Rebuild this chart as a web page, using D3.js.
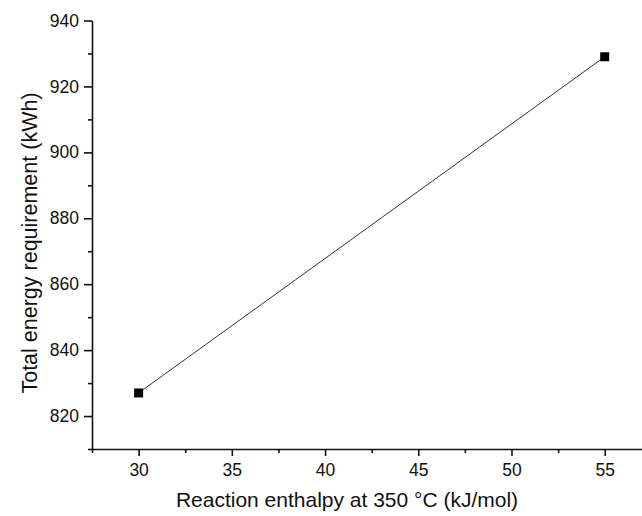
<!DOCTYPE html>
<html>
<head>
<meta charset="utf-8">
<script src="https://cdn.jsdelivr.net/npm/d3@7"></script>
<style>
  body { margin: 0; background: #fff; }
  text { font-family: "Liberation Sans", Arial, sans-serif; fill: #111; }
</style>
</head>
<body>
<svg id="chart"></svg>
<script>
// Reaction enthalpy vs total energy requirement
const enthalpy = [30, 55];        // kJ/mol
const energy = [827, 929];        // kWh
const xTicks = [30, 35, 40, 45, 50, 55];
const yTicks = [820, 840, 860, 880, 900, 920, 940];

const W = 642, H = 516;
const M = { top: 20.5, right: 0, bottom: 67, left: 92 };

const svg = d3.select("#chart").attr("width", W).attr("height", H);

const x = d3.scaleLinear().domain([27.5, 57]).range([M.left, W - M.right]);
const y = d3.scaleLinear().domain([810, 940]).range([H - M.bottom, M.top]);

const minorX = d3.range(27.5, 57.01, 2.5).filter(v => !xTicks.includes(v));
const minorY = d3.range(810, 940.01, 10).filter(v => !yTicks.includes(v));

// x axis
const xg = svg.append("g").attr("transform", `translate(0,${H - M.bottom})`);
xg.call(d3.axisBottom(x).tickValues(xTicks).tickSize(7).tickPadding(8).tickSizeOuter(0));
xg.append("g").call(d3.axisBottom(x).tickValues(minorX).tickSize(4).tickFormat("").tickSizeOuter(0))
  .select(".domain").remove();

// y axis
const yg = svg.append("g").attr("transform", `translate(${M.left},0)`);
yg.call(d3.axisLeft(y).tickValues(yTicks).tickSize(8).tickPadding(5).tickSizeOuter(0));
yg.append("g").call(d3.axisLeft(y).tickValues(minorY).tickSize(4).tickFormat("").tickSizeOuter(0))
  .select(".domain").remove();

svg.selectAll(".domain, .tick line").attr("stroke", "#111").attr("stroke-width", 1.6);
svg.selectAll(".tick text").attr("font-size", 17.5).attr("fill", "#111");

// axis titles
svg.append("text")
  .attr("x", 347).attr("y", 507)
  .attr("text-anchor", "middle")
  .attr("font-size", 21)
  .text("Reaction enthalpy at 350 °C (kJ/mol)");

svg.append("text")
  .attr("transform", `translate(37,243) rotate(-90)`)
  .attr("text-anchor", "middle")
  .attr("font-size", 21.5)
  .text("Total energy requirement (kWh)");

// line + markers
const pts = enthalpy.map((v, i) => [v, energy[i]]);
svg.append("path")
  .datum(pts)
  .attr("fill", "none")
  .attr("stroke", "#333")
  .attr("stroke-width", 1)
  .attr("d", d3.line().x(d => x(d[0])).y(d => y(d[1])));

const s = 9;
svg.selectAll("rect.pt").data(pts).enter().append("rect")
  .attr("class", "pt")
  .attr("x", d => x(d[0]) - s / 2).attr("y", d => y(d[1]) - s / 2)
  .attr("width", s).attr("height", s)
  .attr("fill", "#000");
</script>
</body>
</html>
